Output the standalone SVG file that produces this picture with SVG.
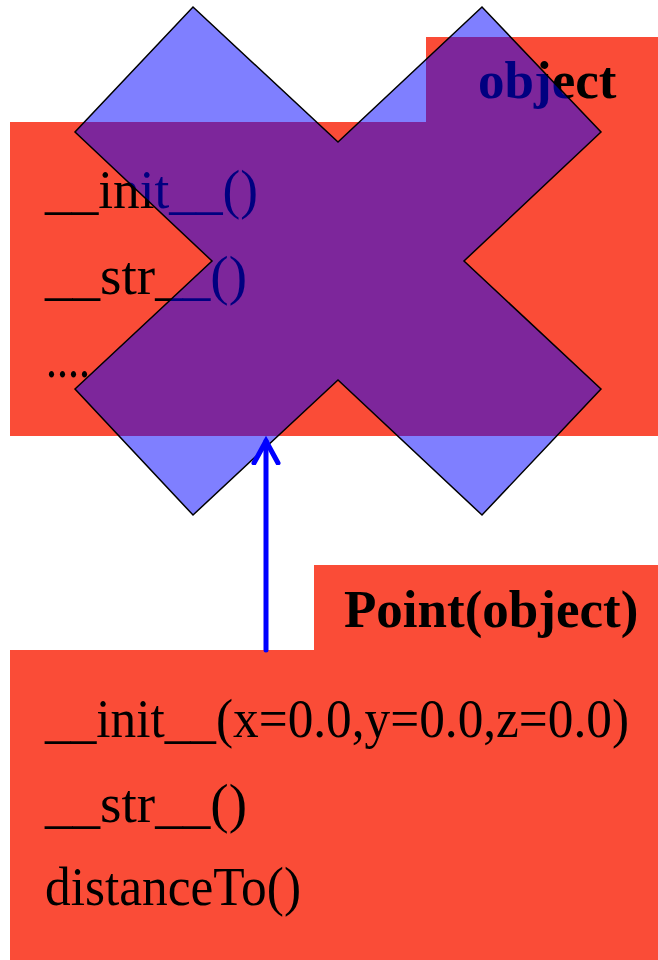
<svg xmlns="http://www.w3.org/2000/svg" width="658" height="960" viewBox="0 0 658 960">
  <style>
    .box { fill: #fa4c37; stroke: none; }
    .title { font-family: "Liberation Serif", "Times New Roman", serif; font-weight: bold; font-size: 53px; fill: #000; }
    .meth { font-family: "Liberation Serif", "Times New Roman", serif; font-size: 54px; fill: #000; }
    .cross { fill: #0000ff; fill-opacity: 0.5; stroke: #000; stroke-width: 1.5; stroke-linejoin: miter; }
    .conn { stroke: #0000ff; stroke-width: 5; fill: none; stroke-linecap: round; }
  </style>
  <defs>
    <marker id="openArrow" markerUnits="userSpaceOnUse" markerWidth="40" markerHeight="40" refX="24" refY="20" orient="auto" viewBox="0 0 40 40">
      <path d="M2,8 L24,20 L2,32" fill="none" stroke="#0000ff" stroke-width="5" stroke-linecap="round" stroke-linejoin="miter"/>
    </marker>
  </defs>

  <g id="node-object">
    <rect class="box" x="426" y="37" width="232" height="86"/>
    <rect class="box" x="10" y="122" width="648" height="314"/>
    <text class="title" x="478" y="98">object</text>
    <text class="meth" x="45" y="208" textLength="213" lengthAdjust="spacingAndGlyphs">__init__()</text>
    <text class="meth" x="45" y="294" textLength="202" lengthAdjust="spacingAndGlyphs">__str__()</text>
    <text class="meth" x="46" y="377" textLength="44" lengthAdjust="spacingAndGlyphs">....</text>
  </g>

  <g id="node-point">
    <rect class="box" x="314" y="565" width="344" height="86"/>
    <rect class="box" x="10" y="650" width="648" height="310"/>
    <text class="title" x="344" y="627">Point(object)</text>
    <text class="meth" x="45" y="737" textLength="584" lengthAdjust="spacingAndGlyphs">__init__(x=0.0,y=0.0,z=0.0)</text>
    <text class="meth" x="45" y="822" textLength="202" lengthAdjust="spacingAndGlyphs">__str__()</text>
    <text class="meth" x="45" y="905" textLength="256" lengthAdjust="spacingAndGlyphs">distanceTo()</text>
  </g>

  <g id="cross-mark">
    <polygon class="cross" points="193,7 338,142 482,7 601,132 464,261 601,389 482,515 338,380 193,515 75,389 212,261 75,132"/>
  </g>

  <g id="connectors">
    <path class="conn" d="M266,650 L266,441" marker-end="url(#openArrow)"/>
  </g>
</svg>
